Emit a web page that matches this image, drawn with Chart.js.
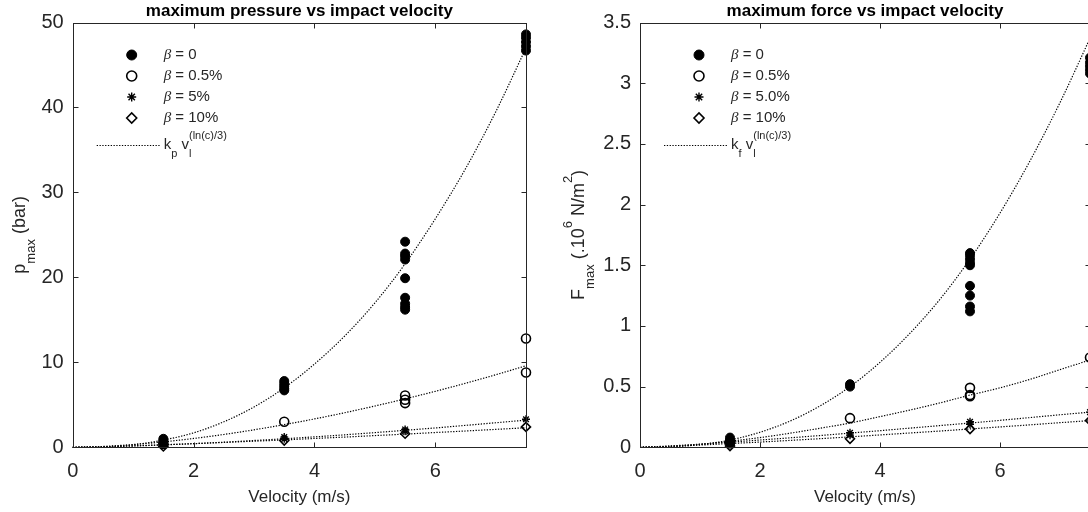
<!DOCTYPE html>
<html>
<head>
<meta charset="utf-8">
<script src="https://cdn.jsdelivr.net/npm/chart.js@4.4.1/dist/chart.umd.min.js"></script>
<style>
  html, body { margin: 0; padding: 0; background: #fff; overflow: hidden; width: 1088px; height: 512px; }
  #wrapL { position: absolute; left: 0; top: 0; width: 544px; height: 512px; }
  #wrapR { position: absolute; left: 544px; top: 0; width: 560px; height: 512px; }
</style>
</head>
<body>
<div id="wrapL"><canvas id="pressure" width="544" height="512"></canvas></div>
<div id="wrapR"><canvas id="force" width="560" height="512"></canvas></div>
<script>
// impact velocities of the tests (m/s)
const velocities = [1.5, 3.5, 5.5, 7.5];

// max pressure (bar), one list of repeated tests per velocity
const pressureB0 = [[0.4, 0.6, 0.8, 1.0], [6.7, 6.9, 7.2, 7.5, 7.8], [16.2, 16.5, 16.9, 17.6, 19.9, 22.1, 22.5, 22.8, 24.2], [46.7, 47.2, 47.7, 48.2, 48.6]];
const pressureB05 = [[0.4], [3.0], [5.2, 5.6, 6.1], [8.8, 12.8]];
const pressureB5 = [[0.3], [1.0, 1.2], [1.9, 2.1], [3.3]];
const pressureB10 = [[0.1], [0.8], [1.6], [2.4]];

// max force (10^6 N/m^2)
const forceB0 = [[0.04, 0.05, 0.06, 0.08], [0.50, 0.52], [1.12, 1.16, 1.25, 1.33, 1.50, 1.52, 1.55, 1.58, 1.60], [3.08, 3.11, 3.14, 3.17, 3.21]];
const forceB05 = [[0.04], [0.24], [0.42, 0.43, 0.49], [0.74]];
const forceB5 = [[0.02], [0.10, 0.12], [0.19, 0.21], [0.29]];
const forceB10 = [[0.01], [0.07], [0.15], [0.22]];

// fitted curves k v^(ln(c)/3) at these velocities
const fitVelocities = [0, 0.5, 1, 1.5, 2, 2.5, 3, 3.5, 4, 4.5, 5, 5.5, 6, 6.5, 7, 7.5];
const pressureFitB0 = [0, 0.05, 0.3, 0.85, 1.7, 3.0, 4.75, 7.0, 9.8, 13.1, 17.0, 21.6, 26.9, 32.8, 39.5, 47.0];
const pressureFitB05 = [0, 0.10, 0.33, 0.64, 1.04, 1.51, 2.06, 2.67, 3.34, 4.07, 4.86, 5.70, 6.59, 7.54, 8.54, 9.6];
const pressureFitB5 = [0, 0.05, 0.15, 0.28, 0.43, 0.60, 0.80, 1.01, 1.23, 1.47, 1.73, 2.0, 2.28, 2.58, 2.89, 3.2];
const pressureFitB10 = [0, 0.07, 0.18, 0.30, 0.43, 0.57, 0.72, 0.87, 1.04, 1.2, 1.38, 1.55, 1.74, 1.92, 2.11, 2.3];
const forceFitB0 = [0, 0.004, 0.022, 0.06, 0.124, 0.216, 0.341, 0.50, 0.70, 0.94, 1.22, 1.55, 1.93, 2.36, 2.84, 3.37];
const forceFitB05 = [0, 0.008, 0.025, 0.05, 0.08, 0.116, 0.157, 0.20, 0.253, 0.307, 0.366, 0.43, 0.49, 0.56, 0.64, 0.72];
const forceFitB5 = [0, 0.011, 0.026, 0.042, 0.06, 0.078, 0.097, 0.117, 0.137, 0.158, 0.179, 0.2, 0.222, 0.245, 0.268, 0.29];
const forceFitB10 = [0, 0.008, 0.0185, 0.031, 0.043, 0.057, 0.071, 0.086, 0.102, 0.118, 0.134, 0.151, 0.168, 0.185, 0.203, 0.22];

const pressureLabels = ['0', '0.5%', '5%', '10%'];
const forceLabels = ['0', '0.5%', '5.0%', '10%'];

const FONT = "'Liberation Sans', Arial, sans-serif";
const GREY = '#262626';
const DOTS = [1.3, 1.5];

const markers = [
    { pointStyle: 'circle', pointRadius: 4.5, backgroundColor: '#000', borderColor: '#000', borderWidth: 1 },
    { pointStyle: 'circle', pointRadius: 4.5, backgroundColor: 'rgba(0,0,0,0)', borderColor: '#000', borderWidth: 1.6 },
    { pointStyle: 'star', pointRadius: 4, backgroundColor: '#000', borderColor: '#000', borderWidth: 1.4 },
    { pointStyle: 'rectRot', pointRadius: 4.5, backgroundColor: 'rgba(0,0,0,0)', borderColor: '#000', borderWidth: 1.6 }
];

function points(groups) {
    let pts = [];
    groups.forEach((vals, i) => {
        for (let v of vals) {
            pts.push({ x: velocities[i], y: v });
        }
    });
    return pts;
}

function curve(vals) {
    return fitVelocities.map((v, i) => ({ x: v, y: vals[i] }));
}

// draws a list of text pieces, with sub / superscripts
function drawRich(ctx, parts, x, y, size, align) {
    const small = Math.round(size * 0.74);
    const fontOf = (p) => {
        let s = (p.sub || p.sup) ? small : size;
        if (p.it) return 'italic ' + s + "px 'Liberation Serif', serif";
        return s + 'px ' + FONT;
    };
    let w = 0;
    for (let p of parts) {
        ctx.font = fontOf(p);
        if (!p.stack) w += ctx.measureText(p.t).width;
    }
    let cx = align === 'center' ? x - w / 2 : x;
    ctx.textBaseline = 'middle';
    ctx.textAlign = 'left';
    for (let p of parts) {
        ctx.font = fontOf(p);
        let dy = p.sub ? size * 0.62 : (p.sup ? -size * 0.6 : 0);
        ctx.fillText(p.t, cx, y + dy);
        if (!p.stack) cx += ctx.measureText(p.t).width;
    }
}

const boxPlugin = {
    id: 'box',
    afterDraw(chart) {
        const { ctx, chartArea: a, scales: { x, y } } = chart;
        const L = Math.round(a.left) + 0.5, R = Math.round(a.right) + 0.5;
        const T = Math.round(a.top) + 0.5, B = Math.round(a.bottom) + 0.5;
        ctx.save();
        ctx.strokeStyle = GREY;
        ctx.lineWidth = 1;
        ctx.setLineDash([]);
        ctx.strokeRect(L, T, R - L, B - T);
        ctx.beginPath();
        for (let t of x.ticks) {
            const px = Math.round(x.getPixelForValue(t.value)) + 0.5;
            ctx.moveTo(px, B); ctx.lineTo(px, B - 5);
            ctx.moveTo(px, T); ctx.lineTo(px, T + 5);
        }
        for (let t of y.ticks) {
            const py = Math.round(y.getPixelForValue(t.value)) + 0.5;
            ctx.moveTo(L, py); ctx.lineTo(L + 5, py);
            ctx.moveTo(R, py); ctx.lineTo(R - 5, py);
        }
        ctx.stroke();
        ctx.restore();
    }
};

const yLabelPlugin = {
    id: 'yLabel',
    afterDraw(chart, args, opts) {
        const { ctx, chartArea: a } = chart;
        ctx.save();
        ctx.translate(opts.x, (a.top + a.bottom) / 2);
        ctx.rotate(-Math.PI / 2);
        ctx.fillStyle = GREY;
        drawRich(ctx, opts.parts, 0, 0, opts.size, 'center');
        ctx.restore();
    }
};

const legendPlugin = {
    id: 'insideLegend',
    afterDraw(chart, args, opts) {
        const { ctx, chartArea: a } = chart;
        const rowY = [32.5, 53.5, 74.5, 95.5];
        ctx.save();
        opts.labels.forEach((lbl, i) => {
            const m = markers[i];
            const y = a.top + rowY[i];
            ctx.fillStyle = m.backgroundColor;
            ctx.strokeStyle = m.borderColor;
            ctx.lineWidth = m.borderWidth;
            Chart.helpers.drawPoint(ctx, { pointStyle: m.pointStyle, radius: m.pointRadius + 0.5, rotation: 0, borderWidth: m.borderWidth }, a.left + 59, y);
            ctx.fillStyle = GREY;
            drawRich(ctx, [{ t: 'β', it: true }, { t: ' = ' + lbl }], a.left + 91, y, 15, 'left');
        });
        const ly = Math.round(a.top + 122.5) + 0.5;
        ctx.strokeStyle = '#000';
        ctx.lineWidth = 1.2;
        ctx.setLineDash(DOTS);
        ctx.beginPath();
        ctx.moveTo(a.left + 24, ly);
        ctx.lineTo(a.left + 88, ly);
        ctx.stroke();
        ctx.fillStyle = GREY;
        drawRich(ctx, [{ t: 'k' }, { t: opts.k, sub: true }, { t: ' v' }, { t: 'l', sub: true, stack: true }, { t: '(ln(c)/3)', sup: true }], a.left + 91, ly - 1, 15, 'left');
        ctx.restore();
    }
};

function makeChart(el, title, groups, fits, labels, k, yMax, yStep, yWidth, padRight, yParts, yLabelX) {
    let datasets = [];
    groups.forEach((g, i) => {
        datasets.push(Object.assign({ data: points(g), clip: false }, markers[i]));
    });
    for (let f of fits) {
        datasets.push({
            data: curve(f),
            showLine: true,
            pointRadius: 0,
            borderColor: '#000',
            borderWidth: 1.2,
            borderDash: DOTS,
            cubicInterpolationMode: 'monotone',
            clip: false
        });
    }
    return new Chart(el, {
        type: 'scatter',
        data: { datasets: datasets },
        options: {
            responsive: false,
            animation: false,
            events: [],
            layout: { padding: { left: 0, right: padRight, top: 0, bottom: 0 } },
            plugins: {
                legend: { display: false },
                tooltip: { enabled: false },
                title: {
                    display: true,
                    text: title,
                    fullSize: false,
                    color: '#000',
                    font: { family: FONT, size: 17, weight: 'bold' },
                    padding: { top: 1, bottom: 1.1 }
                },
                yLabel: { parts: yParts, x: yLabelX, size: 18 },
                insideLegend: { labels: labels, k: k }
            },
            scales: {
                x: {
                    type: 'linear',
                    min: 0,
                    max: 7.5,
                    ticks: { stepSize: 2, includeBounds: false, color: GREY, font: { family: FONT, size: 20 }, padding: 12, maxRotation: 0 },
                    grid: { display: false, drawTicks: false },
                    border: { display: false },
                    title: { display: true, text: 'Velocity (m/s)', color: GREY, font: { family: FONT, size: 17 }, padding: { top: 0, bottom: 4.5 } },
                    afterFit: function (s) { s.height = 64.7; }
                },
                y: {
                    type: 'linear',
                    min: 0,
                    max: yMax,
                    ticks: { stepSize: yStep, color: GREY, font: { family: FONT, size: 20 }, padding: 9, callback: v => String(Math.round(v * 100) / 100) },
                    grid: { display: false, drawTicks: false },
                    border: { display: false },
                    afterFit: function (s) { s.width = yWidth; }
                }
            }
        },
        plugins: [boxPlugin, yLabelPlugin, legendPlugin]
    });
}

makeChart(document.getElementById('pressure'), 'maximum pressure vs impact velocity',
    [pressureB0, pressureB05, pressureB5, pressureB10],
    [pressureFitB0, pressureFitB05, pressureFitB5, pressureFitB10],
    pressureLabels, 'p', 50, 10, 72.7, 18,
    [{ t: 'p' }, { t: 'max', sub: true }, { t: ' (bar)' }], 20);

makeChart(document.getElementById('force'), 'maximum force vs impact velocity',
    [forceB0, forceB05, forceB5, forceB10],
    [forceFitB0, forceFitB05, forceFitB5, forceFitB10],
    forceLabels, 'f', 3.5, 0.5, 96, 14,
    [{ t: 'F' }, { t: 'max', sub: true }, { t: ' (.10' }, { t: '6', sup: true }, { t: ' N/m' }, { t: '2', sup: true }, { t: ')' }], 35);
</script>
</body>
</html>
